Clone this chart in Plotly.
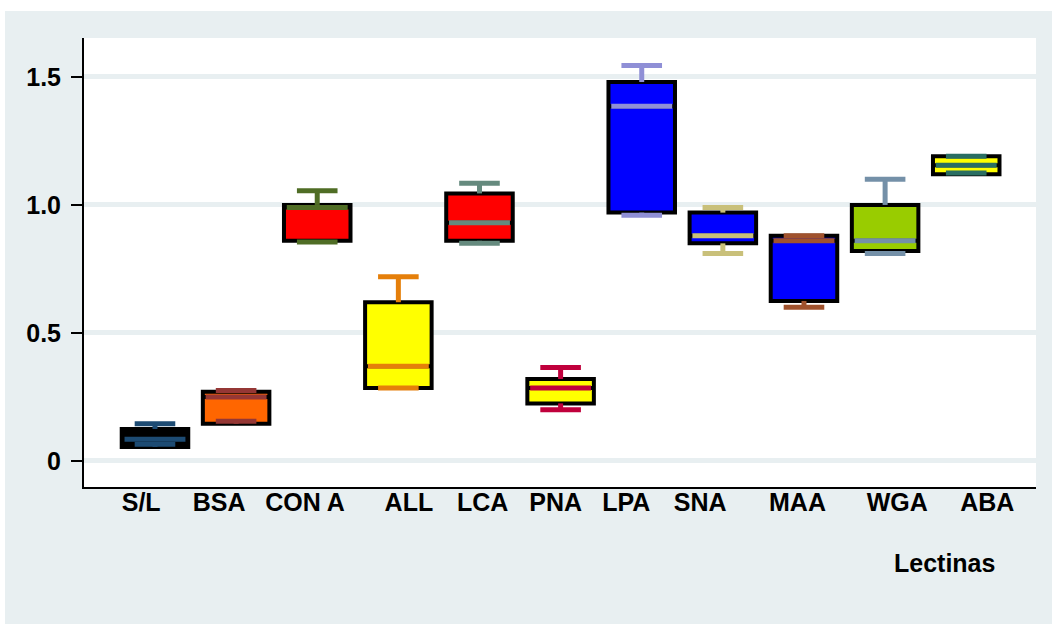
import plotly.graph_objects as go

# ---- data ----
categories = ["S/L", "BSA", "CON A", "ALL", "LCA", "PNA", "LPA", "SNA", "MAA", "WGA", "ABA"]
q1 = [0.055, 0.145, 0.86, 0.285, 0.86, 0.225, 0.97, 0.85, 0.625, 0.82, 1.12]
median = [0.085, 0.25, 0.99, 0.37, 0.93, 0.285, 1.385, 0.88, 0.86, 0.86, 1.155]
q3 = [0.125, 0.27, 1.0, 0.62, 1.045, 0.32, 1.48, 0.97, 0.88, 1.0, 1.19]
lower = [0.065, 0.155, 0.855, 0.285, 0.85, 0.20, 0.96, 0.81, 0.60, 0.81, 1.125]
upper = [0.145, 0.275, 1.055, 0.72, 1.085, 0.365, 1.545, 0.99, 0.88, 1.10, 1.19]

fill_colors = ["#000000", "#ff6600", "#ff0000", "#ffff00", "#ff0000", "#ffff00",
               "#0000ff", "#0000ff", "#0000ff", "#99cc00", "#ffff00"]
line_colors = ["#1d4b73", "#953735", "#4f6d25", "#e57f0a", "#658a7e", "#c0003c",
               "#8f8fd6", "#c9c07a", "#a0522d", "#7490a8", "#2a6e62"]

ytick_vals = [0, 0.5, 1.0, 1.5]
ytick_text = ["0", "0.5", "1.0", "1.5"]
label_pos = [0.83, 1.79, 2.85, 4.13, 5.04, 5.94, 6.81, 7.72, 8.92, 10.15, 11.26]

PANEL = "#e8eff1"
FONT = dict(family="Liberation Sans, Arial, sans-serif", size=25, color="#000000", weight="bold")

fig = go.Figure()

positions = list(range(1, len(categories) + 1))

# boxes (black outline, coloured fill)
for i, cat in enumerate(categories):
    fig.add_trace(go.Box(
        x=[positions[i]], q1=[q1[i]], median=[median[i]], q3=[q3[i]],
        lowerfence=[q1[i]], upperfence=[q3[i]],
        width=0.82, whiskerwidth=0,
        fillcolor=fill_colors[i],
        line=dict(color="#000000", width=4),
        name=cat, showlegend=False, hoverinfo="skip",
    ))

# whiskers and medians (coloured); line-ew length = 1.4 * marker size
for i, cat in enumerate(categories):
    fig.add_trace(go.Scatter(
        x=[positions[i]] * 3,
        y=[upper[i], lower[i], median[i]],
        mode="markers",
        opacity=1,
        marker=dict(symbol="line-ew", size=[29, 29, 43.5], opacity=1,
                    line=dict(color=line_colors[i], width=5)),
        error_y=dict(type="data", symmetric=False,
                     array=[0, q1[i] - lower[i], 0],
                     arrayminus=[upper[i] - q3[i], 0, 0],
                     color=line_colors[i], thickness=5, width=0),
        showlegend=False, hoverinfo="skip",
    ))

L, T, W, H = 84, 38, 952, 449
fig.update_layout(
    width=1052, height=624,
    margin=dict(l=L, r=1052 - L - W, t=T, b=624 - T - H, pad=0),
    paper_bgcolor=PANEL, plot_bgcolor="#ffffff",
    boxmode="overlay",
    font=FONT,
    xaxis=dict(range=[0.125, 11.86], tickvals=label_pos, ticktext=categories,
               showgrid=False, zeroline=False, showline=True, linecolor="#000000",
               linewidth=2, ticks="", tickfont=FONT, ticklabelstandoff=-8),
    yaxis=dict(range=[-0.1016, 1.652], tickvals=ytick_vals, ticktext=ytick_text,
               showgrid=True, gridcolor=PANEL, gridwidth=5, zeroline=False,
               showline=True, linecolor="#000000", linewidth=2,
               ticks="outside", ticklen=11, tickwidth=2, tickcolor="#000000",
               tickfont=FONT, ticklabelstandoff=5),
    annotations=[dict(text="Lectinas", xref="paper", yref="paper",
                      x=(944 - L) / W, y=(T + H - 563) / H, showarrow=False,
                      xanchor="center", yanchor="middle", font=FONT)],
    shapes=[
        dict(type="rect", xref="paper", yref="paper", layer="below",
             x0=-L / W, x1=(1052 - L) / W, y0=(T + H - 11) / H, y1=(T + H) / H,
             fillcolor="#ffffff", line=dict(width=0)),
        dict(type="rect", xref="paper", yref="paper", layer="below",
             x0=-L / W, x1=(5 - L) / W, y0=(T + H - 624) / H, y1=(T + H) / H,
             fillcolor="#ffffff", line=dict(width=0)),
    ],
)

fig.write_html("out.html")
